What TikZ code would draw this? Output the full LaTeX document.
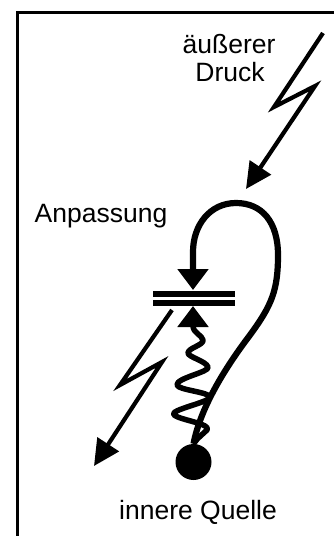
\documentclass[tikz,border=0pt]{standalone}
\usepackage{fontspec}
\setmainfont{Liberation Sans}
\usetikzlibrary{arrows.meta}
\begin{document}
\begin{tikzpicture}[x=1pt,y=-1pt,
  lbl/.style={anchor=base,inner sep=0pt,font=\fontsize{26.5}{30}\selectfont},
  frameline/.style={line width=2.5pt},
  bolt/.style={line width=4.2pt,line join=miter,-{Triangle[length=26pt,width=25pt]}},
  loopline/.style={line width=6.2pt,-{Triangle[length=21pt,width=30pt]}},
  springline/.style={line width=5.5pt,-{Triangle[length=21pt,width=30pt]}},
  plate/.style={fill=black}]
\useasboundingbox (0,0) rectangle (334,536);
% frame
\draw[frameline] (17.5,537) -- (17.5,12.5) -- (335,12.5);
% labels
\node[lbl] (t1) at (229,53) {äußerer};
\node[lbl] (t2) at (230,81) {Druck};
\node[lbl] (t3) at (101,222) {Anpassung};
\node[lbl] (t4) at (198,519) {innere Quelle};
% plates
\fill[plate] (153,290.5) rectangle (235,296.5);
\fill[plate] (153,299.5) rectangle (235,305.5);
\coordinate (ptop) at (193,290);
\coordinate (pbot) at (193,306);
% ball
\node[circle,fill=black,minimum size=36pt,inner sep=0pt] (ball) at (193.5,462) {};
% upper bolt
\coordinate (a1) at (323,33);
\coordinate (a2) at (274,107);
\coordinate (a3) at (315,86);
\coordinate (a4) at (246,189);
\draw[bolt] (a1) -- (a2) -- (a3) -- (a4);
% lower bolt
\coordinate (b1) at (172,310);
\coordinate (b2) at (120,385);
\coordinate (b3) at (162,362);
\coordinate (b4) at (94,466);
\draw[bolt] (b1) -- (b2) -- (b3) -- (b4);
% loop
\draw[loopline] (ball.north) .. controls (200,410) and (222,372) .. (250,335)
  .. controls (272,305) and (278,290) .. (278,255)
  .. controls (278,222) and (262,203) .. (236,203)
  .. controls (210,203) and (193,225) .. (193,252) -- (ptop);
% spring
\draw[springline,line join=round] (ball.north) .. controls (196,440) .. (207,430)
  .. controls (212,424) and (180,420) .. (174,415)
  .. controls (168,410) and (211,402) .. (210,397)
  .. controls (209,392) and (178,390) .. (177,385)
  .. controls (176,378) and (210,372) .. (208,367)
  .. controls (206,361) and (188,357) .. (188,353)
  .. controls (188,348) and (204,345) .. (203,340)
  .. controls (202,335) and (193,333) .. (pbot);
\end{tikzpicture}
\end{document}
